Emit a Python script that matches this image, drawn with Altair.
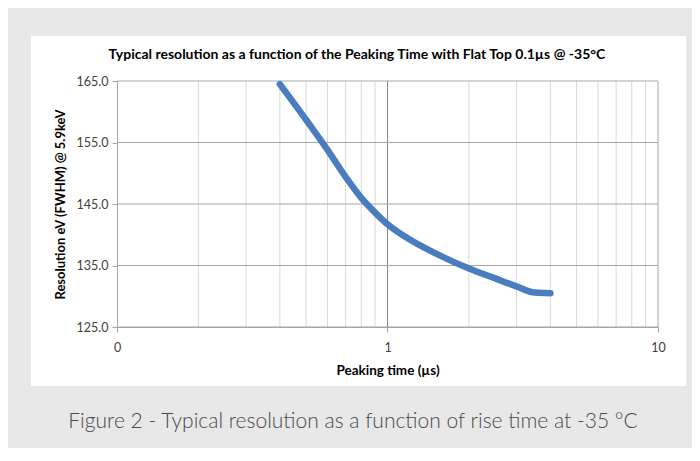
import altair as alt
import pandas as pd

# Curve data (peaking time in µs, resolution in eV)
peaking_time = [0.4, 0.5, 0.6, 0.7, 0.8, 0.9, 1.0, 1.2, 1.5, 2.0, 2.5, 3.0, 3.5, 4.0]
resolution = [164.5, 158.7, 153.8, 149.4, 146.0, 143.6, 141.7, 139.3, 137.0, 134.5, 132.9, 131.6, 130.6, 130.5]

minor_x = [0.2, 0.3, 0.4, 0.5, 0.6, 0.7, 0.8, 0.9, 2, 3, 4, 5, 6, 7, 8, 9]
major_x = [1]
edge_x = [10]
x_ticks = [0.1, 1, 10]
y_ticks = [125, 135, 145, 155, 165]

title_text = "Typical resolution as a function of the Peaking Time with Flat Top 0.1µs @ -35°C"
caption_text = "Figure 2 - Typical resolution as a function of rise time at -35 °C"

df = pd.DataFrame({"t": peaking_time, "r": resolution})
df_minor = pd.DataFrame({"t": minor_x})
df_major = pd.DataFrame({"t": major_x})
df_edge = pd.DataFrame({"t": edge_x})
df_hgrid = pd.DataFrame({"r": y_ticks})
one = pd.DataFrame({"a": [0]})

W, H = 541, 246
FONT = "Lato"
AXIS_GRAY = "#a6a6a6"

xscale = alt.Scale(type="log", domain=[0.1, 10])
yscale = alt.Scale(domain=[125, 165])

box = alt.Chart(one).mark_rect(color="white").encode(
    x=alt.value(-86), x2=alt.value(569), y=alt.value(-45), y2=alt.value(305)
)

minor = alt.Chart(df_minor).mark_rule(color="#d9d9d9", strokeWidth=1).encode(
    x=alt.X("t:Q", scale=xscale)
)
major = alt.Chart(df_major).mark_rule(color="#868686", strokeWidth=1).encode(
    x=alt.X("t:Q", scale=xscale)
)
edge = alt.Chart(df_edge).mark_rule(color=AXIS_GRAY, strokeWidth=1).encode(
    x=alt.X("t:Q", scale=xscale)
)
hgrid = alt.Chart(df_hgrid).mark_rule(color=AXIS_GRAY, strokeWidth=1).encode(
    y=alt.Y("r:Q", scale=yscale)
)

line = alt.Chart(df).mark_line(
    color="#4a7dbf", strokeWidth=6.5, interpolate="monotone", strokeCap="round"
).encode(
    x=alt.X(
        "t:Q",
        scale=xscale,
        axis=alt.Axis(
            values=x_ticks,
            labelExpr="datum.value < 1 ? '0' : format(datum.value, 'd')",
            title="Peaking time (µs)",
            titleFont=FONT, titleFontWeight="bold", titleFontSize=13.5,
            titleColor="#000000", titlePadding=10,
            labelFont=FONT, labelFontSize=12.5, labelColor="#404040",
            labelPadding=9, labelFlush=False,
            grid=False, zindex=1,
            domainColor=AXIS_GRAY, tickColor=AXIS_GRAY, tickSize=5,
        ),
    ),
    y=alt.Y(
        "r:Q",
        scale=yscale,
        axis=alt.Axis(
            values=y_ticks,
            format=".1f",
            title="Resolution eV (FWHM) @ 5.9keV",
            titleFont=FONT, titleFontWeight="bold", titleFontSize=13,
            titleColor="#000000", titlePadding=9,
            labelFont=FONT, labelFontSize=12.5, labelColor="#404040",
            labelPadding=4, labelFlush=False,
            grid=False, zindex=1,
            domainColor=AXIS_GRAY, tickColor=AXIS_GRAY, tickSize=5,
        ),
    ),
)

title = alt.Chart(one).mark_text(
    text=title_text, font=FONT, fontWeight="bold", fontSize=14,
    color="#000000", align="center", baseline="middle",
).encode(x=alt.value(240), y=alt.value(-26))

caption = alt.Chart(one).mark_text(
    text=caption_text, font=FONT, fontWeight=300, fontSize=21,
    color="#4a4a4a", align="center", baseline="middle",
).encode(x=alt.value(236), y=alt.value(341))

chart = alt.layer(box, minor, major, edge, hgrid, line, title, caption).properties(
    width=W, height=H,
    background="#e8e8e8",
    padding={"left": 109, "top": 73, "right": 34, "bottom": 121},
    autosize=alt.AutoSizeParams(type="none"),
).configure_view(stroke=None)

chart.save("out.html", embed_options={"renderer": "svg", "actions": False})
